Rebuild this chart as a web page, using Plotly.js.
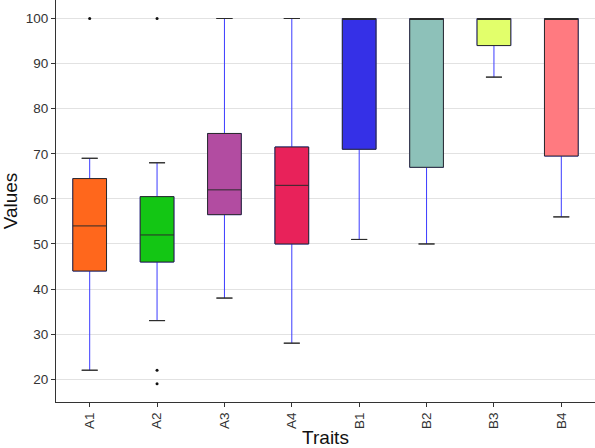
<!DOCTYPE html>
<html>
<head>
<meta charset="utf-8">
<script src="https://cdn.plot.ly/plotly-3.0.1.min.js"></script>
<style>html,body{margin:0;padding:0;background:#fff;}#chart{width:595px;height:448px;}</style>
</head>
<body>
<div id="chart"></div>
<script>
var categories = ['A1','A2','A3','A4','B1','B2','B3','B4'];
var lowerWhisker = [22, 33, 38, 28, 51, 50, 87, 56];
var q1Values     = [44, 46, 56.5, 50, 71, 67, 94, 69.5];
var medianValues = [54, 52, 62, 63, 100, 100, 100, 100];
var q3Values     = [64.5, 60.5, 74.5, 71.5, 100, 100, 100, 100];
var upperWhisker = [69, 68, 100, 100, 100, 100, 100, 100];
var outlierCats  = ['A1','A2','A2','A2'];
var outlierVals  = [100, 100, 22, 19];
var boxColors = ['#FF671C','#13C614','#B24CA1','#E8225A','#3530E7','#8DC1B9','#E2FF6B','#FF7A80'];

var font = 'Liberation Sans, Arial, sans-serif';
var traces = [];

// blue whiskers (no caps)
traces.push({
  type: 'box', x: categories,
  q1: q1Values, median: medianValues, q3: q3Values,
  lowerfence: lowerWhisker, upperfence: upperWhisker,
  line: {color: '#3B3BFF', width: 1}, fillcolor: 'rgba(0,0,0,0)',
  whiskerwidth: 0, width: 0.5, boxpoints: false, hoverinfo: 'skip', showlegend: false
});

// coloured boxes
categories.forEach(function(c, i) {
  traces.push({
    type: 'box', x: [c],
    q1: [q1Values[i]], median: [medianValues[i]], q3: [q3Values[i]],
    lowerfence: [q1Values[i]], upperfence: [q3Values[i]],
    line: {color: '#2b2b2b', width: 1}, fillcolor: boxColors[i],
    whiskerwidth: 0, width: 0.5, boxpoints: false, hoverinfo: 'skip', showlegend: false
  });
});

// black whisker caps
var capX = categories.concat(categories);
var capY = lowerWhisker.concat(upperWhisker);
traces.push({
  type: 'scatter', mode: 'markers', x: capX, y: capY,
  marker: {size: 1, opacity: 0},
  error_y: {type: 'data', array: capY.map(function(){return 0;}), arrayminus: capY.map(function(){return 0;}),
            symmetric: false, color: '#2b2b2b', thickness: 1, width: 8},
  hoverinfo: 'skip', showlegend: false
});

// outliers
traces.push({
  type: 'scatter', mode: 'markers', x: outlierCats, y: outlierVals,
  marker: {size: 3, color: '#111'}, hoverinfo: 'skip', showlegend: false
});

var layout = {
  width: 595, height: 448,
  margin: {l: 56, r: 0, t: 0, b: 46},
  paper_bgcolor: '#fff', plot_bgcolor: '#fff',
  showlegend: false, hovermode: false, boxmode: 'overlay',
  font: {family: font, color: '#333'},
  xaxis: {
    type: 'category', categoryorder: 'array', categoryarray: categories,
    range: [-0.5, 7.5], showgrid: false, zeroline: false,
    showline: true, linecolor: '#333', linewidth: 1,
    ticks: 'outside', ticklen: 4, tickcolor: '#333', tickangle: -90,
    tickfont: {family: font, size: 13.5, color: '#333'},
    title: {text: 'Traits', font: {family: font, size: 19, color: '#111'}, standoff: 4}
  },
  yaxis: {
    range: [14.95, 104.103], tickvals: [20,30,40,50,60,70,80,90,100],
    showgrid: true, gridcolor: '#E2E2E2', gridwidth: 1, zeroline: false,
    showline: true, linecolor: '#333', linewidth: 1,
    ticks: 'outside', ticklen: 4, tickcolor: '#333',
    tickfont: {family: font, size: 13.5, color: '#333'},
    title: {text: 'Values', font: {family: font, size: 19, color: '#111'}, standoff: 7}
  }
};

Plotly.newPlot('chart', traces, layout, {displayModeBar: false, staticPlot: true});
</script>
</body>
</html>
